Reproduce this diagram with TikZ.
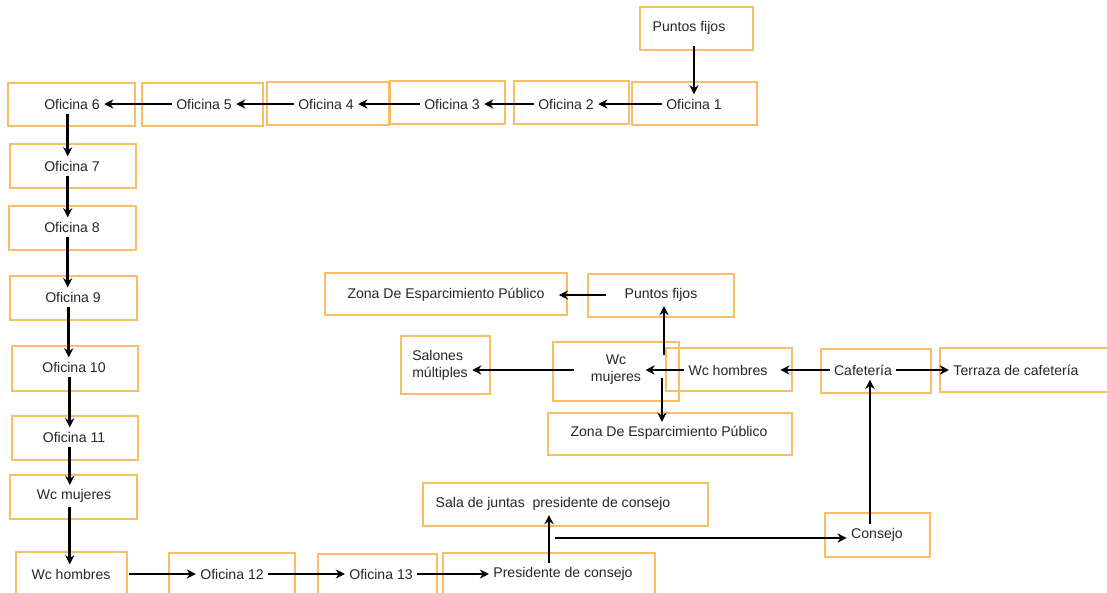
\documentclass[tikz,border=0pt]{standalone}
\usepackage{fontspec}
\setmainfont{Liberation Sans}
\usepackage{tikz}
\usetikzlibrary{arrows.meta,fit}
\definecolor{boxorange}{RGB}{247,190,100}
\tikzset{
  area/.style={draw=boxorange, line width=1.6pt, inner sep=0pt},
  lbl/.style={inner sep=3pt, font=\fontsize{10}{12}\selectfont, text=black!85},
  arr/.style={->, line width=2pt}
}

\begin{document}
\begin{tikzpicture}[>={Stealth[length=6.5pt,width=6.5pt]}, x=0.025cm, y=-0.025cm]
\clip (0,0) rectangle (1107,593);

\node[area, fit={(640,7) (753,50)}] (bpf1) {};
\node[area, fit={(632,82) (757,125)}] (b1) {};
\node[area, fit={(514,81) (629,124)}] (b2) {};
\node[area, fit={(390,81) (505,124)}] (b3) {};
\node[area, fit={(267,82) (389,125)}] (b4) {};
\node[area, fit={(142,83) (263,126)}] (b5) {};
\node[area, fit={(8,83) (135,126)}] (b6) {};
\node[area, fit={(10,144) (136,188)}] (b7) {};
\node[area, fit={(9,206) (136,250)}] (b8) {};
\node[area, fit={(10,276) (137,320)}] (b9) {};
\node[area, fit={(12,346) (138,391)}] (b10) {};
\node[area, fit={(12,416) (138,460)}] (b11) {};
\node[area, fit={(10,475) (137,519)}] (bwcm1) {};
\node[area, fit={(16,552) (127,605)}] (bwch1) {};
\node[area, fit={(169,553) (295,605)}] (b12) {};
\node[area, fit={(318,554) (437,605)}] (b13) {};
\node[area, fit={(443,553) (655,605)}] (bpres) {};
\node[area, fit={(423,483) (708,526)}] (bsala) {};
\node[area, fit={(825,513) (930,557)}] (bcons) {};
\node[area, fit={(821,349) (931,393)}] (bcaf) {};
\node[area, fit={(940,348) (1115,392)}] (bterr) {};
\node[area, fit={(666,348) (792,391)}] (bwch2) {};
\node[area, fit={(553,342) (679,401)}] (bwcm2) {};
\node[area, fit={(401,336) (490,394)}] (bsal) {};
\node[area, fit={(588,274) (734,317)}] (bpf2) {};
\node[area, fit={(325,273) (567,315)}] (bzona1) {};
\node[area, fit={(548,413) (792,455)}] (bzona2) {};

\node[lbl] (pf1) at (689,28) {Puntos fijos};
\node[lbl] (o1) at (694,104) {Oficina 1};
\node[lbl] (o2) at (566,104) {Oficina 2};
\node[lbl] (o3) at (452,104) {Oficina 3};
\node[lbl] (o4) at (326,104) {Oficina 4};
\node[lbl] (o5) at (204,104) {Oficina 5};
\node[lbl] (o6) at (72,104) {Oficina 6};
\node[lbl] (o7) at (72,166) {Oficina 7};
\node[lbl] (o8) at (72,227) {Oficina 8};
\node[lbl] (o9) at (73,297) {Oficina 9};
\node[lbl] (o10) at (74,367) {Oficina 10};
\node[lbl] (o11) at (74,437) {Oficina 11};
\node[lbl] (wcm1) at (74,496) {Wc mujeres};
\node[lbl] (wch1) at (71,574) {Wc hombres};
\node[lbl] (o12) at (232,574) {Oficina 12};
\node[lbl] (o13) at (381,574) {Oficina 13};
\node[lbl] (pres) at (563,574) {Presidente de consejo};
\node[lbl] (sala) at (553,504) {Sala de juntas\ \ presidente de consejo};
\node[lbl] (cons) at (877,535) {Consejo};
\node[lbl] (caf) at (863,370) {Cafetería};
\node[lbl] (terr) at (1016,370) {Terraza de cafetería};
\node[lbl] (wch2) at (728,370) {Wc hombres};
\node[lbl, align=center] (wcm2) at (616,370) {Wc\\mujeres};
\node[lbl, align=left] (sal) at (440,365) {Salones\\múltiples};
\node[lbl] (pf2) at (661,295) {Puntos fijos};
\node[lbl] (zona1) at (446,295) {Zona De Esparcimiento Público};
\node[lbl] (zona2) at (669,433) {Zona De Esparcimiento Público};

\coordinate (pj) at (549,538);
\coordinate (wcup) at (664,355);
\coordinate (wcdn) at (662,378);

\draw[arr, shorten <=5pt] (pf1.south -| o1) -- (o1.north);
\draw[arr] (o1) -- (o2);
\draw[arr] (o2) -- (o3);
\draw[arr] (o3) -- (o4);
\draw[arr] (o4) -- (o5);
\draw[arr] (o5) -- (o6);
\draw[arr] ([xshift=-3pt]o6.south) -- ([xshift=-3pt]o6.south |- o7.north);
\draw[arr] ([xshift=-3pt]o7.south) -- ([xshift=-3pt]o7.south |- o8.north);
\draw[arr] ([xshift=-3pt]o8.south) -- ([xshift=-3pt]o8.south |- o9.north);
\draw[arr] ([xshift=-3pt]o9.south) -- ([xshift=-3pt]o9.south |- o10.north);
\draw[arr] ([xshift=-3pt]o10.south) -- ([xshift=-3pt]o10.south |- o11.north);
\draw[arr] ([xshift=-3pt]o11.south) -- ([xshift=-3pt]o11.south |- wcm1.north);
\draw[arr] ([xshift=-3pt]wcm1.south) -- ([xshift=-3pt]wcm1.south |- wch1.north);
\draw[arr, shorten <=10pt] (wch1) -- (o12);
\draw[arr] (o12) -- (o13);
\draw[arr] (o13) -- (pres);
\draw[arr] (pj |- pres.north) -- (pj |- sala.south);
\draw[arr] ([xshift=4pt]pj) -- (pj -| cons.west);
\draw[arr] ([xshift=-5pt]cons.north) -- ([xshift=-5pt]cons.north |- caf.south);
\draw[arr] (caf) -- (terr);
\draw[arr, shorten >=6pt] (caf) -- (wch2);
\draw[arr] (wch2) -- (wcm2);
\draw[arr, shorten <=9pt] (wcm2.west) -- (wcm2.west -| sal.east);
\draw[arr] (wcup) -- (wcup |- pf2.south);
\draw[arr] (wcdn) -- (wcdn |- zona2.north);
\draw[arr, shorten <=10pt, shorten >=7pt] (pf2) -- (zona1);
\end{tikzpicture}
\end{document}
